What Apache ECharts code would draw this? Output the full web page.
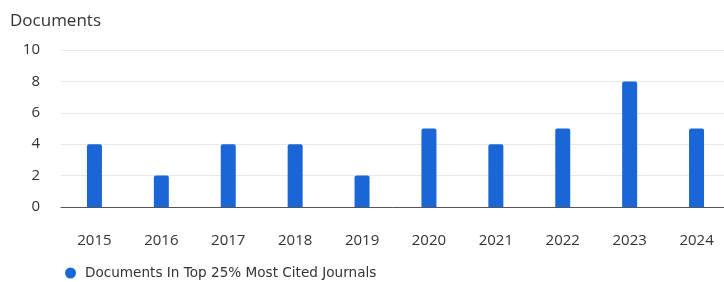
<!DOCTYPE html>
<html>
<head>
<meta charset="utf-8">
<script src="https://cdn.jsdelivr.net/npm/echarts@6/dist/echarts.min.js"></script>
<style>
  html, body { margin: 0; padding: 0; background: #fff; }
  #chart { width: 724px; height: 282px; }
</style>
</head>
<body>
<div id="chart"></div>
<script>
// data
const years = ['2015', '2016', '2017', '2018', '2019', '2020', '2021', '2022', '2023', '2024']
const topCitedDocs = [4, 2, 4, 4, 2, 5, 4, 5, 8, 5]
const seriesName = 'Documents In Top 25% Most Cited Journals'

const font = '"Open Sans", "Noto Sans", sans-serif'

echarts.init(document.getElementById('chart')).setOption({
  animation: false,
  title: {
    text: 'Documents',
    left: 5,
    top: 8,
    textStyle: {
      color: '#333',
      fontSize: 17,
      fontWeight: 400,
      fontFamily: font
    }
  },
  grid: {
    left: 61,
    right: -6,
    top: 50,
    bottom: 75,
    outerBoundsMode: 'none'
  },
  legend: {
    left: 60,
    top: 261,
    icon: 'circle',
    itemWidth: 11,
    itemHeight: 11,
    itemGap: 10,
    textStyle: {
      color: '#333',
      fontSize: 13.6,
      fontFamily: '"DejaVu Sans", sans-serif',
      padding: [0, 0, 0, 4]
    },
    data: [seriesName]
  },
  xAxis: {
    type: 'category',
    data: years,
    axisTick: { show: false },
    axisLine: {
      lineStyle: { color: '#555', width: 1 }
    },
    axisLabel: {
      margin: 26,
      color: '#333',
      fontSize: 15,
      fontFamily: font
    }
  },
  yAxis: {
    type: 'value',
    min: 0,
    max: 10,
    interval: 2,
    axisLine: { show: false },
    axisTick: { show: false },
    splitLine: {
      lineStyle: { color: '#e8e8e8' }
    },
    axisLabel: {
      margin: 21,
      color: '#333',
      fontSize: 15,
      fontFamily: font
    }
  },
  series: [{
    name: seriesName,
    type: 'bar',
    data: topCitedDocs,
    barWidth: 15,
    itemStyle: {
      color: '#1a66d6',
      borderRadius: [2, 2, 0, 0]
    }
  }]
})
</script>
</body>
</html>
